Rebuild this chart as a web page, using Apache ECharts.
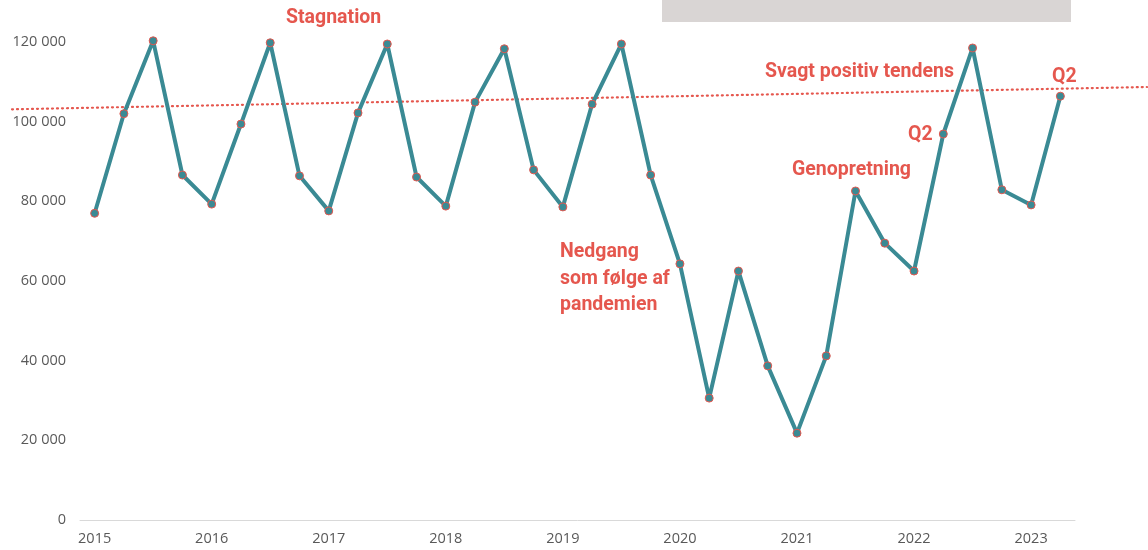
<!DOCTYPE html>
<html>
<head>
<meta charset="utf-8">
<script src="https://cdn.jsdelivr.net/npm/echarts@6/dist/echarts.min.js"></script>
<style>
  html, body { margin: 0; padding: 0; background: #fff; }
  #chart { width: 1148px; height: 550px; }
</style>
</head>
<body>
<div id="chart"></div>
<script>
// kvartaler 2015 K1 - 2023 K2
const quarters = [
  "2015 Q1","2015 Q2","2015 Q3","2015 Q4",
  "2016 Q1","2016 Q2","2016 Q3","2016 Q4",
  "2017 Q1","2017 Q2","2017 Q3","2017 Q4",
  "2018 Q1","2018 Q2","2018 Q3","2018 Q4",
  "2019 Q1","2019 Q2","2019 Q3","2019 Q4",
  "2020 Q1","2020 Q2","2020 Q3","2020 Q4",
  "2021 Q1","2021 Q2","2021 Q3","2021 Q4",
  "2022 Q1","2022 Q2","2022 Q3","2022 Q4",
  "2023 Q1","2023 Q2"
];
const values = [
  77000, 102000, 120300, 86600,
  79300, 99400, 119800, 86400,
  77600, 102200, 119500, 86100,
  78800, 104900, 118300, 87900,
  78600, 104400, 119500, 86600,
  64300, 30600, 62500, 38700,
  21800, 41200, 82600, 69500,
  62500, 96900, 118500, 82900,
  79100, 106400
];
// trendlinje (kvartalsindeks, værdi) - løber ud over plotområdet
const trendStart = [-2.8, 103100];
const trendEnd = [36, 108700];
const yTicks = [0, 20000, 40000, 60000, 80000, 100000, 120000];

const red = "#e5574e";
const teal = "#3a8a94";
const fontBold = { fontFamily: "Roboto", fontWeight: "bold", fontSize: 19.5, fill: red };

let chart = echarts.init(document.getElementById("chart"));
let option = {
  animation: false,
  grid: [
    { left: 80, right: 73, top: 42, bottom: 30 },
    // bred grid til trendlinjen, så den kan gå helt ud til kanterne
    { left: 12, right: 1, top: 42, bottom: 30 }
  ],
  xAxis: [
    {
      type: "category",
      gridIndex: 0,
      data: quarters,
      boundaryGap: true,
      axisLine: { lineStyle: { color: "#d9d9d9", width: 1 } },
      axisTick: { show: false },
      axisLabel: {
        interval: 3,
        color: "#595959",
        fontSize: 14.5,
        fontFamily: "Open Sans",
        margin: 11,
        formatter: v => v.slice(0, 4)
      }
    },
    {
      type: "value",
      gridIndex: 1,
      min: trendStart[0],
      max: trendEnd[0],
      show: false
    }
  ],
  yAxis: [
    {
      type: "value",
      gridIndex: 0,
      min: yTicks[0],
      max: yTicks[yTicks.length - 1],
      interval: 20000,
      splitLine: { show: false },
      axisLine: { show: false },
      axisTick: { show: false },
      axisLabel: {
        color: "#595959",
        fontSize: 14.5,
        fontFamily: "Open Sans",
        margin: 14,
        formatter: v => String(v).replace(/\B(?=(\d{3})+(?!\d))/g, " ")
      }
    },
    {
      type: "value",
      gridIndex: 1,
      min: yTicks[0],
      max: yTicks[yTicks.length - 1],
      show: false
    }
  ],
  series: [
    {
      type: "line",
      xAxisIndex: 1,
      yAxisIndex: 1,
      data: [trendStart, trendEnd],
      clip: false,
      symbol: "none",
      z: 1,
      lineStyle: { color: red, width: 2.2, type: [1, 4], cap: "round" }
    },
    {
      type: "line",
      data: values,
      clip: false,
      symbol: "circle",
      symbolSize: 8,
      z: 3,
      lineStyle: { color: teal, width: 4 },
      itemStyle: { color: teal, borderColor: red, borderWidth: 1 }
    }
  ],
  graphic: [
    { type: "rect", shape: { x: 662, y: 0, width: 409, height: 22 }, style: { fill: "#d9d5d4" } },
    { type: "text", x: 286, y: 18, style: Object.assign({ text: "Stagnation", verticalAlign: "middle" }, fontBold) },
    { type: "text", x: 765, y: 72, style: Object.assign({ text: "Svagt positiv tendens", verticalAlign: "middle" }, fontBold) },
    { type: "text", x: 1052, y: 77, style: Object.assign({ text: "Q2", verticalAlign: "middle" }, fontBold) },
    { type: "text", x: 908, y: 135, style: Object.assign({ text: "Q2", verticalAlign: "middle" }, fontBold) },
    { type: "text", x: 792, y: 170, style: Object.assign({ text: "Genopretning", verticalAlign: "middle" }, fontBold) },
    { type: "text", x: 560, y: 239, style: Object.assign({ text: "Nedgang\nsom følge af\npandemien", verticalAlign: "top", lineHeight: 26.5 }, fontBold) }
  ]
};
chart.setOption(option);
</script>
</body>
</html>
